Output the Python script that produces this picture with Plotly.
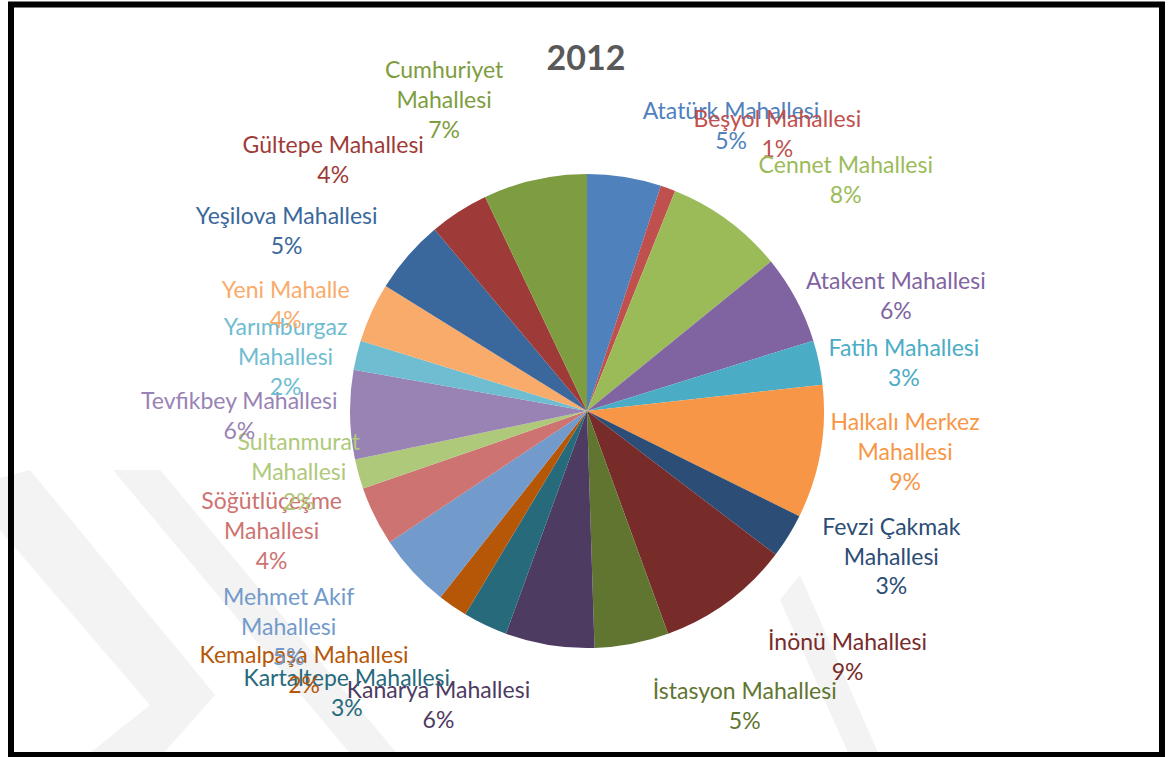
import plotly.graph_objects as go

# ---- data ----
neighbourhoods = [
    "Atatürk Mahallesi", "Beşyol Mahallesi", "Cennet Mahallesi", "Atakent Mahallesi",
    "Fatih Mahallesi", "Halkalı Merkez Mahallesi", "Fevzi Çakmak Mahallesi", "İnönü Mahallesi",
    "İstasyon Mahallesi", "Kanarya Mahallesi", "Kartaltepe Mahallesi", "Kemalpaşa Mahallesi",
    "Mehmet Akif Mahallesi", "Söğütlüçeşme Mahallesi", "Sultanmurat Mahallesi", "Tevfikbey Mahallesi",
    "Yarımburgaz Mahallesi", "Yeni Mahalle", "Yeşilova Mahallesi", "Gültepe Mahallesi",
    "Cumhuriyet Mahallesi",
]
shares = [5, 1, 8, 6, 3, 9, 3, 9, 5, 6, 3, 2, 5, 4, 2, 6, 2, 4, 5, 4, 7]
wrapped = {"Halkalı Merkez Mahallesi", "Fevzi Çakmak Mahallesi", "Mehmet Akif Mahallesi",
           "Söğütlüçeşme Mahallesi", "Sultanmurat Mahallesi", "Yarımburgaz Mahallesi",
           "Cumhuriyet Mahallesi"}
colors = [
    "#4F81BD", "#C0504D", "#9BBB59", "#8064A2", "#4BACC6", "#F79646", "#2C4D75",
    "#772C2A", "#5F7530", "#4D3B62", "#276A7C", "#B65708", "#729ACA", "#CD7371",
    "#AFC97A", "#9983B5", "#6FBDD1", "#F9AB6B", "#3A679C", "#9E3B38", "#7E9D40",
]
title_text = "2012"

# ---- style / layout ----
# extra distance (px) of each label from the pie edge (label styling only)
label_push = [24, 32, 28, -5, -5, -12, 14, 44, 34, 31, 48, 52, 50, 12, -25, -2, -13, 8, 21, 38, 40]

W, H = 1170, 757
FONT = "Lato, 'Noto Sans', sans-serif"
CX, CY, R = 587, 411, 237   # pie centre / radius in page pixels


def domain(r):
    return dict(x=[(CX - r) / W, (CX + r) / W], y=[(H - CY - r) / H, (H - CY + r) / H])


def px(x, y):
    return x / W, 1 - y / H


display = ["<br>".join(n.rsplit(" ", 1)) if n in wrapped else n for n in neighbourhoods]
n = len(neighbourhoods)

fig = go.Figure()
# the slices
fig.add_trace(go.Pie(
    labels=neighbourhoods, values=shares, sort=False, direction="clockwise", rotation=0,
    marker=dict(colors=colors, line=dict(width=0)),
    textposition="none", domain=domain(R), hoverinfo="label+percent",
))
# one label per overlay (transparent, same centre) so labels keep their natural place
for k in range(n):
    fig.add_trace(go.Pie(
        labels=neighbourhoods, values=shares, sort=False, direction="clockwise", rotation=0,
        text=display, texttemplate="%{text}<br>%{value}%",
        textposition=["outside" if i == k else "none" for i in range(n)],
        marker=dict(colors=["rgba(0,0,0,0)"] * n, line=dict(width=0)),
        outsidetextfont=dict(family=FONT, size=23, color=colors[k]),
        domain=domain(R + label_push[k]), hoverinfo="skip",
    ))


def poly(points):
    pts = [px(x, y) for x, y in points]
    return "M " + " L ".join(f"{a:.4f},{b:.4f}" for a, b in pts) + " Z"


wm = "#F3F3F3"
shapes = [
    dict(type="path", xref="paper", yref="paper", layer="below", line=dict(width=0), fillcolor=wm,
         path=poly([(0, 478), (30, 470), (215, 695), (160, 757), (85, 757), (150, 705), (0, 530)])),
    dict(type="path", xref="paper", yref="paper", layer="below", line=dict(width=0), fillcolor=wm,
         path=poly([(113, 470), (160, 470), (400, 757), (353, 757)])),
    dict(type="path", xref="paper", yref="paper", layer="below", line=dict(width=0), fillcolor=wm,
         path=poly([(780, 600), (800, 575), (880, 757), (850, 757)])),
    dict(type="rect", xref="paper", yref="paper", layer="above",
         x0=11 / W, x1=1162 / W, y0=1 - 755 / H, y1=1 - 4.5 / H,
         line=dict(color="black", width=6), fillcolor="rgba(0,0,0,0)"),
]

fig.update_layout(
    width=W, height=H,
    margin=dict(l=0, r=0, t=0, b=0, autoexpand=False),
    paper_bgcolor="white",
    plot_bgcolor="white",
    showlegend=False,
    shapes=shapes,
    title=dict(text=f"<b>{title_text}</b>", x=586 / W, xanchor="center",
               y=1 - 58 / H, yanchor="middle",
               font=dict(family=FONT, size=34, color="#595959")),
)

fig.write_html("out.html")
